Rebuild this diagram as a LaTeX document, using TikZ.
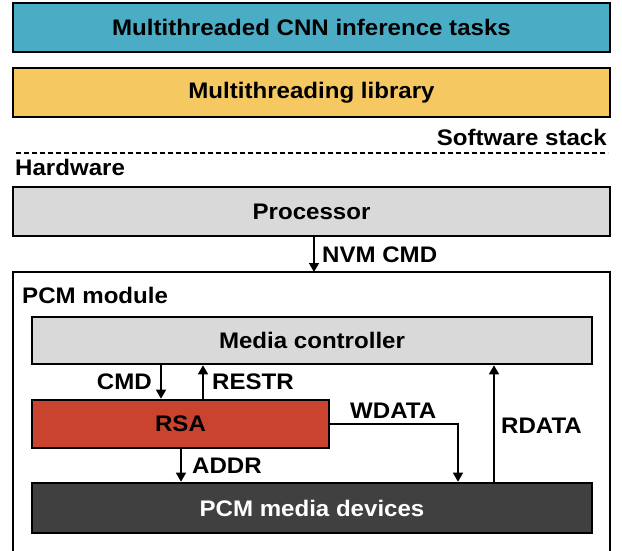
\documentclass[tikz,border=0pt]{standalone}
\usepackage{fontspec}
\setmainfont{Liberation Sans}[FakeStretch=1.07]
\usetikzlibrary{arrows.meta}

\definecolor{tealbox}{HTML}{4BACC6}
\definecolor{goldbox}{HTML}{F5C862}
\definecolor{greybox}{HTML}{D9D9D9}
\definecolor{rsared}{HTML}{C9432F}
\definecolor{darkbox}{HTML}{404040}

\begin{document}
\begin{tikzpicture}[x=1pt, y=-1pt,
  txt/.style={font=\bfseries\fontsize{22.5}{27}\selectfont},
  box/.style={txt, draw=black, line width=2.6pt, inner sep=0pt},
  lbl/.style={txt, inner sep=0pt},
  arr/.style={line width=1.5pt, -{Triangle[length=9pt,width=10pt]}}]

  \useasboundingbox (0,0) rectangle (622,550);

  % software stack
  \node[box, fill=tealbox, minimum width=597pt, minimum height=49pt] (tasks) at (311.5,27.5) {Multithreaded CNN inference tasks};
  \node[box, fill=goldbox, minimum width=597pt, minimum height=49pt] (lib) at (311.5,92.5) {Multithreading library};
  \node[lbl, anchor=base east] (sw) at (607,145) {Software stack};

  % separator
  \coordinate (sepL) at (16,153);
  \coordinate (sepR) at (608,153);
  \draw[line width=2pt, dash pattern=on 5pt off 3pt] (sepL) -- (sepR);
  \node[lbl, anchor=base west] (hw) at (15,175) {Hardware};

  % processor
  \node[box, fill=greybox, minimum width=597pt, minimum height=49pt] (proc) at (311.5,211.5) {Processor};

  % PCM module frame (open at the bottom)
  \coordinate (modBL) at (13,560);
  \coordinate (modTL) at (13,272);
  \coordinate (modTR) at (610,272);
  \coordinate (modBR) at (610,560);
  \draw[line width=2pt] (modBL) -- (modTL) -- (modTR) -- (modBR);
  \node[lbl, anchor=base west] (modlbl) at (22,303) {PCM module};

  % NVM command
  \coordinate (xnvm) at (314,0);
  \draw[arr] (proc.south -| xnvm) -- (modTL -| xnvm);
  \node[lbl, anchor=base west] (nvm) at (322,262) {NVM CMD};

  % module contents
  \node[box, fill=greybox, minimum width=560pt, minimum height=47pt] (mc) at (312,340.5) {Media controller};
  \node[box, fill=rsared, minimum width=297pt, minimum height=48pt] (rsa) at (180.5,424) {RSA};
  \node[box, fill=darkbox, text=white, minimum width=560pt, minimum height=50pt] (dev) at (312,508) {PCM media devices};

  \coordinate (xcmd) at (161,0);
  \coordinate (xres) at (203,0);
  \coordinate (xaddr) at (181,0);
  \coordinate (xw) at (458,0);
  \coordinate (xr) at (494,0);

  \draw[arr] (mc.south -| xcmd) -- (rsa.north -| xcmd);
  \node[lbl, anchor=base east] (cmd) at (152,389) {CMD};
  \draw[arr] (rsa.north -| xres) -- (mc.south -| xres);
  \node[lbl, anchor=base west] (restr) at (212,389) {RESTR};

  \draw[arr] (rsa.south -| xaddr) -- (dev.north -| xaddr);
  \node[lbl, anchor=base west] (addr) at (192,473) {ADDR};

  \draw[arr] (rsa.east) -- (rsa.east -| xw) -- (dev.north -| xw);
  \node[lbl, anchor=base west] (wdata) at (350,418) {WDATA};

  \draw[arr] (dev.north -| xr) -- (mc.south -| xr);
  \node[lbl, anchor=base west] (rdata) at (501,433) {RDATA};
\end{tikzpicture}
\end{document}
